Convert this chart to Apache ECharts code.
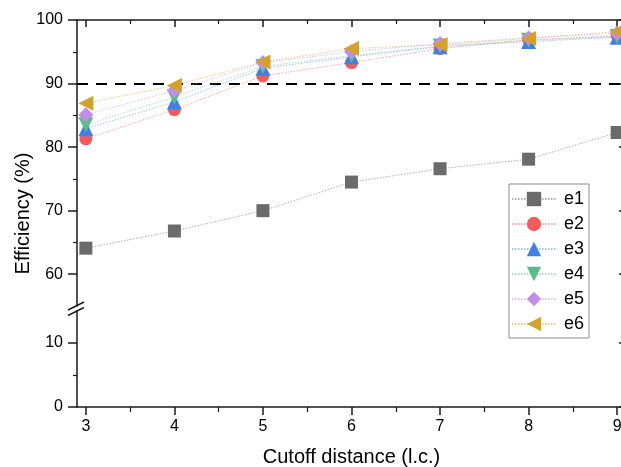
<!DOCTYPE html>
<html>
<head>
<meta charset="utf-8">
<script src="https://cdn.jsdelivr.net/npm/echarts@6/dist/echarts.min.js"></script>
<style>
html,body{margin:0;padding:0;background:#fff;}
#chart{width:621px;height:467px;}
</style>
</head>
<body>
<div id="chart"></div>
<script>
const xValues = [3, 4, 5, 6, 7, 8, 9];
const xMinorTicks = [3.5, 4.5, 5.5, 6.5, 7.5, 8.5];
const upperYLabels = [60, 70, 80, 90, 100];
const upperYMinor = [65, 75, 85, 95];
const lowerYLabels = [0, 10];
const lowerYMinor = [5];
const threshold = 90;

const seriesNames = ['e1', 'e2', 'e3', 'e4', 'e5', 'e6'];
const e1 = [64.1, 66.8, 70.0, 74.5, 76.6, 78.1, 82.3];
const e2 = [81.3, 85.9, 91.2, 93.3, 95.5, 96.9, 97.5];
const e3 = [82.9, 87.1, 92.4, 94.2, 95.8, 96.6, 97.3];
const e4 = [83.5, 87.9, 92.7, 94.4, 95.9, 96.8, 97.4];
const e5 = [85.1, 88.9, 93.3, 95.0, 96.3, 97.2, 97.9];
const e6 = [86.9, 89.7, 93.4, 95.5, 96.1, 97.1, 98.2];
const allValues = [e1, e2, e3, e4, e5, e6];

const colors = ['#6b6b6b', '#f45c5c', '#3f80e8', '#5dbb8b', '#c08ee6', '#d4a12c'];
const lineColors = ['rgba(120,120,120,0.6)', 'rgba(244,92,92,0.55)', 'rgba(63,128,232,0.5)', 'rgba(93,187,139,0.5)', 'rgba(192,142,230,0.55)', 'rgba(212,161,44,0.55)'];
const symbols = ['rect', 'circle', 'triangle', 'triangle', 'diamond', 'triangle'];
const rotations = [0, 0, 0, 180, 0, 90];
const sizes = [13, 13, 15, 15, 15, 15];

const FONT = 'Liberation Sans, Arial, sans-serif';
const AX = '#1a1a1a';

const chart = echarts.init(document.getElementById('chart'), null, {renderer: 'canvas'});

const series = allValues.map((vals, i) => {
  const s = {
    name: seriesNames[i],
    type: 'line',
    xAxisIndex: 0,
    yAxisIndex: 0,
    data: xValues.map((x, j) => [x, vals[j]]),
    symbol: symbols[i],
    symbolSize: sizes[i],
    symbolRotate: rotations[i],
    itemStyle: {color: colors[i], opacity: 1},
    lineStyle: {color: lineColors[i], width: 1, type: [1.5, 1.5]},
    z: 3 + i,
    animation: false
  };
  if (i === 0) {
    s.markLine = {
      silent: true,
      symbol: 'none',
      label: {show: false},
      lineStyle: {color: '#000', type: [11, 8], width: 2},
      data: [{yAxis: threshold}],
      z: 2
    };
  }
  return s;
});

const lineDef = {show: true, lineStyle: {color: AX, width: 1.5}};
const GW = 549;

const option = {
  backgroundColor: '#fff',
  animation: false,
  textStyle: {fontFamily: FONT},
  grid: [
    {left: 77, width: GW, top: 20, height: 286, outerBoundsMode: 'none', containLabel: false},
    {left: 77, width: GW, top: 311, height: 96, outerBoundsMode: 'none', containLabel: false},
    {left: 77, width: GW, top: 20, height: 387, outerBoundsMode: 'none', containLabel: false}
  ],
  xAxis: [
    {gridIndex: 0, type: 'value', position: 'top', min: 2.9, max: 9.1,
     axisLine: lineDef, axisLabel: {show: false}, splitLine: {show: false},
     axisTick: {show: true, inside: true, length: 7, lineStyle: {color: AX, width: 1.5}, customValues: xValues}},
    {gridIndex: 0, type: 'value', position: 'top', min: 2.9, max: 9.1,
     axisLine: {show: false}, axisLabel: {show: false}, splitLine: {show: false},
     axisTick: {show: true, inside: true, length: 4, lineStyle: {color: AX, width: 1.2}, customValues: xMinorTicks}},
    {gridIndex: 1, type: 'value', position: 'bottom', min: 2.9, max: 9.1,
     axisLine: lineDef, splitLine: {show: false},
     axisLabel: {show: true, customValues: xValues, color: '#000', fontSize: 16, fontFamily: FONT, margin: 12},
     axisTick: {show: true, inside: false, length: 8, lineStyle: {color: AX, width: 1.5}, customValues: xValues},
     name: 'Cutoff distance (l.c.)', nameLocation: 'middle', nameGap: 40,
     nameTextStyle: {color: '#000', fontSize: 20, fontFamily: FONT}},
    {gridIndex: 1, type: 'value', position: 'bottom', min: 2.9, max: 9.1,
     axisLine: {show: false}, axisLabel: {show: false}, splitLine: {show: false},
     axisTick: {show: true, inside: false, length: 5, lineStyle: {color: AX, width: 1.2}, customValues: xMinorTicks}},
    {gridIndex: 2, type: 'value', min: 0, max: 1, show: false}
  ],
  yAxis: [
    {gridIndex: 0, type: 'value', position: 'left', min: 55, max: 100,
     axisLine: lineDef, splitLine: {show: false},
     axisLabel: {show: true, customValues: upperYLabels, color: '#000', fontSize: 16, fontFamily: FONT, margin: 14},
     axisTick: {show: true, inside: false, length: 9, lineStyle: {color: AX, width: 1.5}, customValues: upperYLabels}},
    {gridIndex: 0, type: 'value', position: 'left', min: 55, max: 100,
     axisLine: {show: false}, axisLabel: {show: false}, splitLine: {show: false},
     axisTick: {show: true, inside: false, length: 4, lineStyle: {color: AX, width: 1.2}, customValues: upperYMinor}},
    {gridIndex: 0, type: 'value', position: 'right', min: 55, max: 100,
     axisLine: lineDef, axisLabel: {show: false}, splitLine: {show: false},
     axisTick: {show: true, inside: true, length: 7, lineStyle: {color: AX, width: 1.5}, customValues: upperYLabels}},
    {gridIndex: 1, type: 'value', position: 'left', min: 0, max: 15,
     axisLine: lineDef, splitLine: {show: false},
     axisLabel: {show: true, customValues: lowerYLabels, color: '#000', fontSize: 16, fontFamily: FONT, margin: 14},
     axisTick: {show: true, inside: false, length: 9, lineStyle: {color: AX, width: 1.5}, customValues: lowerYLabels}},
    {gridIndex: 1, type: 'value', position: 'left', min: 0, max: 15,
     axisLine: {show: false}, axisLabel: {show: false}, splitLine: {show: false},
     axisTick: {show: true, inside: false, length: 4, lineStyle: {color: AX, width: 1.2}, customValues: lowerYMinor}},
    {gridIndex: 1, type: 'value', position: 'right', min: 0, max: 15,
     axisLine: lineDef, axisLabel: {show: false}, splitLine: {show: false},
     axisTick: {show: true, inside: true, length: 7, lineStyle: {color: AX, width: 1.5}, customValues: lowerYLabels}},
    {gridIndex: 2, type: 'value', position: 'left', min: 0, max: 1,
     axisLine: {show: false}, axisTick: {show: false}, axisLabel: {show: false}, splitLine: {show: false},
     name: 'Efficiency (%)', nameLocation: 'middle', nameGap: 44,
     nameTextStyle: {color: '#000', fontSize: 20, fontFamily: FONT}}
  ],
  legend: {
    show: true,
    orient: 'vertical',
    left: 509,
    top: 184,
    data: seriesNames,
    itemWidth: 44,
    itemHeight: 18,
    itemGap: 7,
    padding: [6, 5, 5, 2],
    borderColor: '#8c8c8c',
    borderWidth: 1,
    backgroundColor: '#fff',
    textStyle: {fontSize: 18, lineHeight: 18, color: '#000', fontFamily: FONT, padding: [0, 0, 0, 3]}
  },
  graphic: [
    {type: 'line', shape: {x1: 68, y1: 310, x2: 84, y2: 302}, style: {stroke: AX, lineWidth: 1.5}, z: 100},
    {type: 'line', shape: {x1: 68, y1: 315.5, x2: 84, y2: 307.5}, style: {stroke: AX, lineWidth: 1.5}, z: 100}
  ],
  series: series
};

chart.setOption(option);
</script>
</body>
</html>
